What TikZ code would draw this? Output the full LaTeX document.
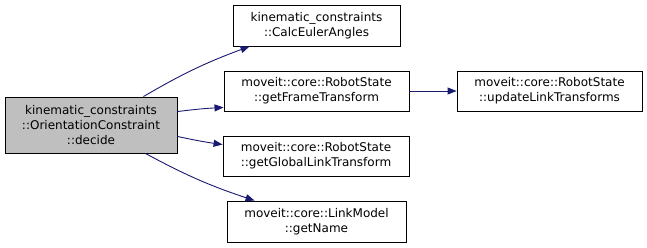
\documentclass[tikz,border=0pt]{standalone}
\usepackage{fontspec}
\setmainfont{DejaVu Sans}
\usetikzlibrary{arrows.meta}
\definecolor{edgeblue}{HTML}{191970}
\definecolor{rootgray}{HTML}{BFBFBF}
\tikzset{
  fn/.style={draw=black, line width=0.9pt, fill=white, align=center, inner sep=0pt,
    font=\fontsize{12pt}{15pt}\selectfont},
  root/.style={fn, fill=rootgray},
  call/.style={draw=edgeblue, line width=0.9pt, -{Triangle[length=9pt,width=7pt]}, color=edgeblue}
}
\begin{document}
\begin{tikzpicture}[x=1pt,y=1pt]
\useasboundingbox (0,0) rectangle (647,248);
% caller
\node[root, minimum width=172pt, minimum height=56pt] (decide) at (91,123)
  {kinematic\_constraints\\::OrientationConstraint\\::decide};
% callees
\node[fn, minimum width=167pt, minimum height=41pt] (euler) at (316.5,222.5)
  {kinematic\_constraints\\::CalcEulerAngles};
\node[fn, minimum width=185pt, minimum height=40pt] (frame) at (316.5,157)
  {moveit::core::RobotState\\::getFrameTransform};
\node[fn, minimum width=186pt, minimum height=40pt] (global) at (316,92)
  {moveit::core::RobotState\\::getGlobalLinkTransform};
\node[fn, minimum width=179pt, minimum height=41pt] (name) at (316.5,26.5)
  {moveit::core::LinkModel\\::getName};
\node[fn, minimum width=185pt, minimum height=40pt] (update) at (549.5,157)
  {moveit::core::RobotState\\::updateLinkTransforms};
% calls
\draw[call] ([xshift=-34pt]decide.north east) to[bend left=5] ([xshift=17pt]euler.south west);
\draw[call] ([yshift=-15pt]decide.north east) to[bend left=2] ([yshift=4pt]frame.south west);
\draw[call] ([yshift=17pt]decide.south east) to[bend right=2] ([yshift=-9pt]global.north west);
\draw[call] ([xshift=-32pt]decide.south east) to[bend right=5] ([xshift=28pt]name.north west);
\draw[call] (frame) -- (update);
\end{tikzpicture}
\end{document}
